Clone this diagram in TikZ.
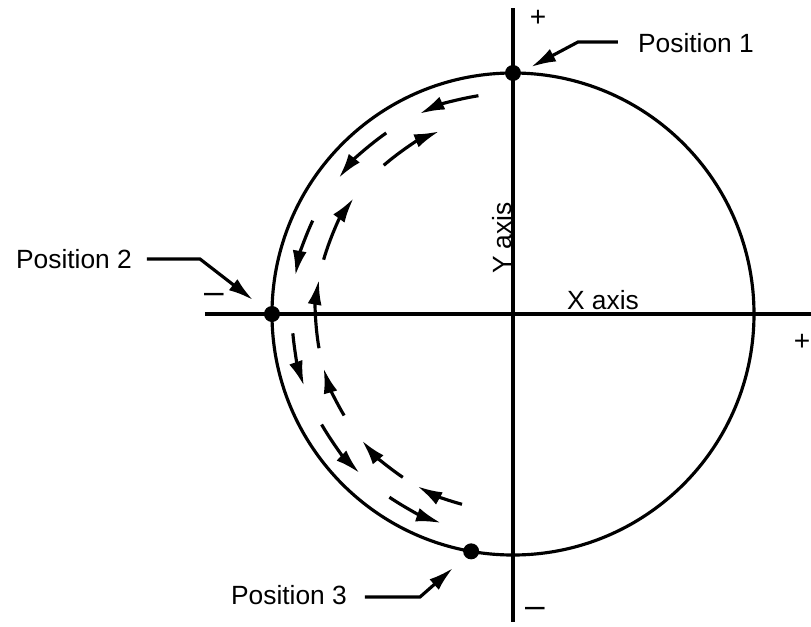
\documentclass[tikz,border=0pt]{standalone}
\usepackage{fontspec}
\setmainfont{Liberation Sans}
\usetikzlibrary{arrows.meta}

\begin{document}
\begin{tikzpicture}[
  font=\fontsize{15}{18}\selectfont,
  axisline/.style={line width=2.2pt},
  rim/.style={line width=1.8pt},
  track/.style={line width=1.8pt, -{Latex[length=5mm,width=2.8mm]}},
  leader/.style={line width=1.8pt, -{Latex[length=5mm,width=2.8mm]}},
  posdot/.style={circle, fill=black, inner sep=0pt, minimum size=3.2mm},
  sign/.style={inner sep=0pt}
]
\useasboundingbox (-10.26,-6.24) rectangle (5.96,6.28);

\coordinate (o) at (0,0);
\draw[rim] (o) circle[radius=4.82];
\draw[axisline] (0,6.12) -- (0,-6.16);
\draw[axisline] (-6.16,0) -- (6.1,0);

\node[posdot] (p1) at (90:4.82) {};
\node[posdot] (p2) at (180:4.82) {};
\node[posdot] (p3) at (260:4.82) {};

\node[rotate=90] (ylab) at (-0.22,1.52) {Y axis};
\node (xlab) at (1.8,0.28) {X axis};

\node[sign, font=\fontsize{16}{16}\selectfont] (ytop) at (0.5,5.92) {+};
\node[sign, font=\fontsize{20}{22}\selectfont] (ybot) at (0.44,-5.96) {–};
\node[sign, font=\fontsize{20}{22}\selectfont] (xleft) at (-5.98,0.32) {–};
\node[sign, font=\fontsize{16}{16}\selectfont] (xright) at (5.78,-0.56) {+};

% labels with leaders
\node (lab1) at (3.66,5.42) {Position 1};
\coordinate (tail1) at (2.1,5.44);
\coordinate (tip1) at (0.36,4.94);
\draw[leader] (tail1) -- ++(-0.8,0) -- (tip1);

\node (lab2) at (-8.78,1.1) {Position 2};
\coordinate (tail2) at (-7.32,1.1);
\coordinate (tip2) at (-5.2,0.28);
\draw[leader] (tail2) -- ++(1.06,0) -- (tip2);

\node (lab3) at (-4.48,-5.62) {Position 3};
\coordinate (tail3) at (-2.96,-5.66);
\coordinate (tip3) at (-1.2,-5.08);
\draw[leader] (tail3) -- ++(1.1,0) -- (tip3);

% outer track, 1 -> 2 -> 3
\draw[track] (99:4.42) arc[start angle=99, end angle=115, radius=4.42];
\draw[track] (125:4.42) arc[start angle=125, end angle=142, radius=4.42];
\draw[track] (155:4.42) arc[start angle=155, end angle=170, radius=4.42];
\draw[track] (185:4.42) arc[start angle=185, end angle=199, radius=4.42];
\draw[track] (210:4.42) arc[start angle=210, end angle=226, radius=4.42];
\draw[track] (236:4.42) arc[start angle=236, end angle=251, radius=4.42];

% inner track, back
\draw[track] (255:3.94) arc[start angle=255, end angle=241, radius=3.94];
\draw[track] (236:3.94) arc[start angle=236, end angle=220, radius=3.94];
\draw[track] (211:3.94) arc[start angle=211, end angle=196, radius=3.94];
\draw[track] (190:3.94) arc[start angle=190, end angle=170, radius=3.94];
\draw[track] (164:3.94) arc[start angle=164, end angle=144, radius=3.94];
\draw[track] (131:3.94) arc[start angle=131, end angle=112, radius=3.94];
\end{tikzpicture}
\end{document}
